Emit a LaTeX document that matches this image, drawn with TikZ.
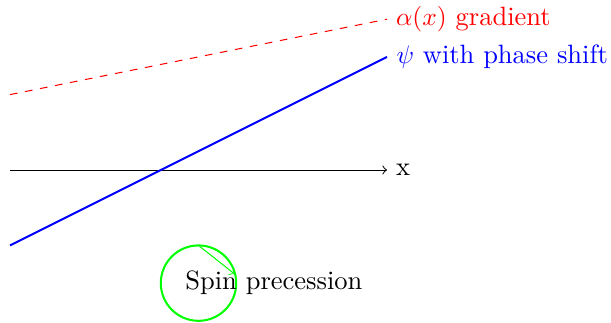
\documentclass[tikz,border=0pt]{standalone}
\begin{document}
\begin{tikzpicture}[x=0.52cm,y=0.52cm,
  font=\fontsize{10.4}{12.5}\selectfont,
  lbl/.style={right},
  axisline/.style={->,black},
  alphaline/.style={red,dashed},
  psiline/.style={blue,thick},
  spin/.style={green,thick}]
\useasboundingbox (-0.265,-4.032) rectangle (15.94,4.509);
\coordinate (o) at (0,0);
\coordinate (xe) at (10,0);
\coordinate (a0) at (0,2);
\coordinate (a1) at (10,4);
\coordinate (p0) at (0,-2);
\coordinate (p1) at (10,3);
\coordinate (c) at (5,-3);
\coordinate (ctop) at (5,-2);
\coordinate (cr) at (5.96,-2.76);
\draw[axisline] (o) -- (xe) node[lbl] (xl) {x};
\draw[alphaline] (a0) -- (a1) node[lbl,red] (al) {$\alpha(x)$ gradient};
\draw[psiline] (p0) -- (p1) node[lbl,blue] (pl) {$\psi$ with phase shift};
\draw[spin] (c) circle (1);
\draw[->,green] (ctop) -- (cr);
\node (sp) at (7,-3) {Spin precession};
\end{tikzpicture}
\end{document}
